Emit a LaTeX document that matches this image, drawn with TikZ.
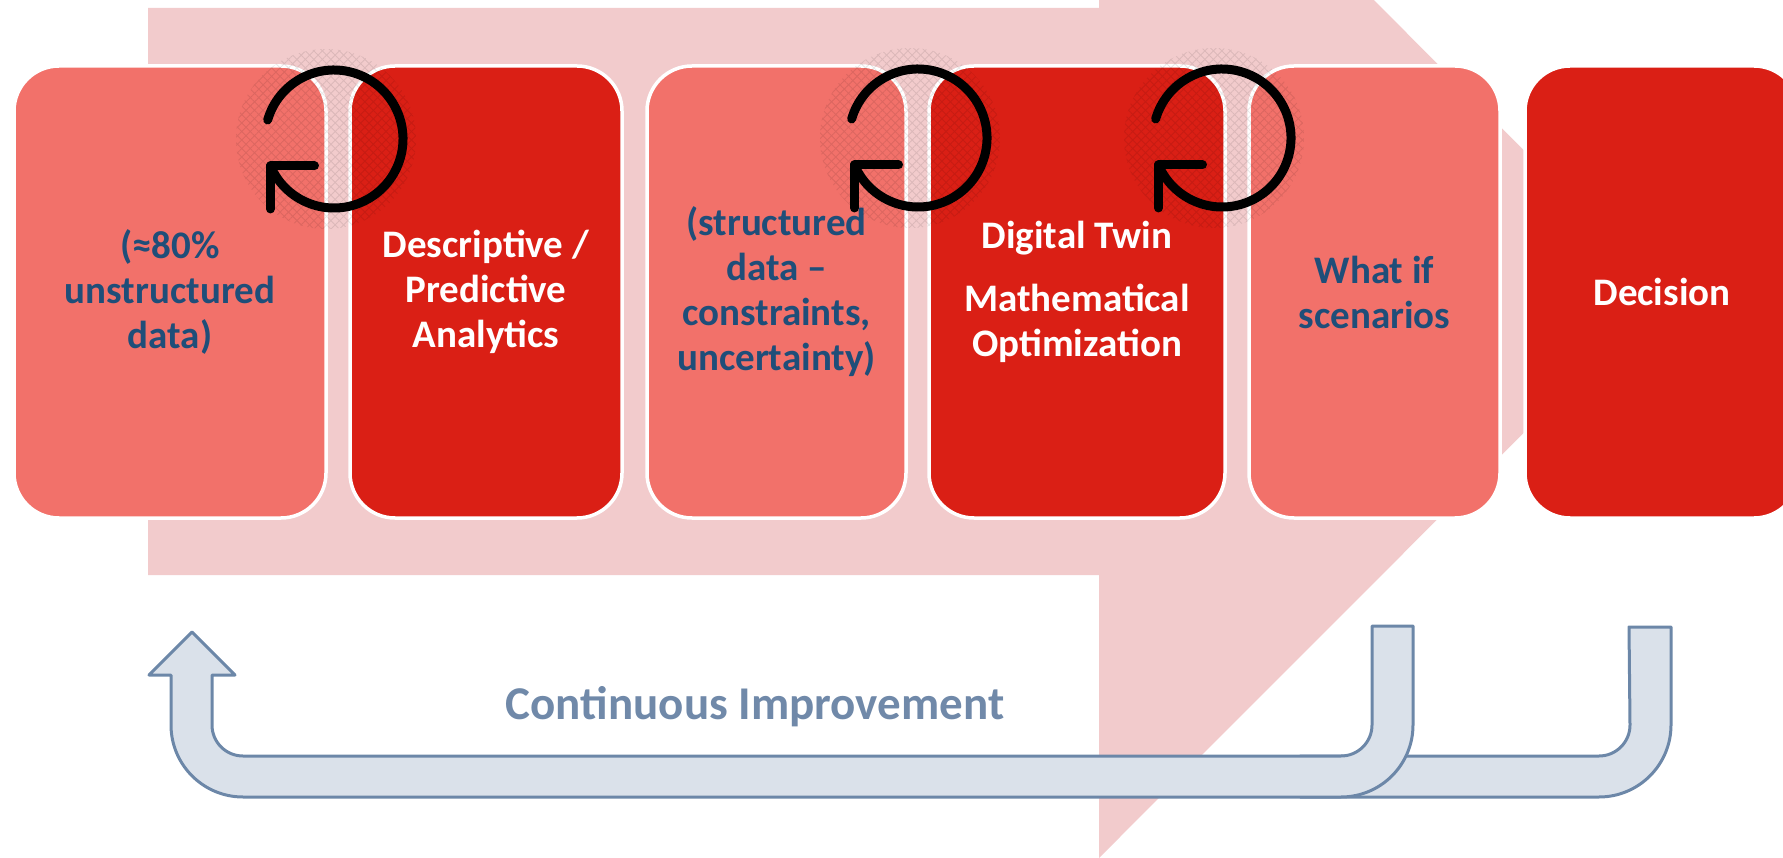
\documentclass[tikz,border=0pt]{standalone}
\usepackage{fontspec}
\setmainfont{Carlito}
\usetikzlibrary{patterns.meta}

\definecolor{chevronpink}{HTML}{F2CBCC}
\definecolor{boxlight}{HTML}{F2716A}
\definecolor{boxdark}{HTML}{DA1F15}
\definecolor{textblue}{HTML}{1F4E79}
\definecolor{loopfill}{HTML}{DAE1EA}
\definecolor{loopline}{HTML}{6C87A8}
\definecolor{looptext}{HTML}{7089A9}

\tikzset{
  stagebox/.style={rectangle, rounded corners=45pt, draw=white, line width=3.5pt,
    minimum height=452pt, inner sep=0pt, align=center,
    font=\bfseries\fontsize{39}{45}\selectfont},
  lightbox/.style={stagebox, fill=boxlight, text=textblue},
  darkbox/.style={stagebox, fill=boxdark, text=white},
  cyclestroke/.style={line width=9pt, line cap=round, line join=round, draw=black},
  loopshape/.style={fill=loopfill, draw=loopline, line width=3pt, line join=round},
  cycleicon/.pic={
    % faint cross-hatched halo behind the icon
    \begin{scope}[transparency group, opacity=0.09]
      \fill[pattern={Lines[angle=45,distance=6pt,line width=0.9pt]}, pattern color=black]
        (-8,0) circle (90);
      \fill[pattern={Lines[angle=-45,distance=6pt,line width=0.9pt]}, pattern color=black]
        (-8,0) circle (90);
    \end{scope}
    % open circle running clockwise, with a corner-shaped arrow tip
    \draw[cyclestroke] (-164:69) arc[start angle=-164, end angle=157, radius=69];
    \draw[cyclestroke] (157:69) ++(44,0) -- (157:69) -- ++(0,43);
  }
}

\begin{document}
\begin{tikzpicture}[x=1pt, y=-1pt]
\useasboundingbox (0,0) rectangle (1783,858);
\begin{scope}
\clip (0,0) rectangle (1783,858);

% large background chevron
\fill[chevronpink] (148,8) -- (1099,8) -- (1099,-275) -- (1665,291.5)
  -- (1099,858) -- (1099,575) -- (148,575) -- cycle;

% process stages
\node[lightbox, minimum width=312pt] (raw)      at (170,292)   {(≈80\%\\unstructured\\data)};
\node[darkbox,  minimum width=272pt] (analytics) at (486,292)  {Descriptive /\\Predictive\\Analytics};
\node[lightbox, minimum width=259pt] (structured) at (776.5,292) {(structured\\data –\\constraints,\\uncertainty)};
\node[darkbox,  minimum width=296pt] (twin)     at (1077,292)  {Digital Twin\\[18pt]Mathematical\\Optimization};
\node[lightbox, minimum width=251pt] (whatif)   at (1374.5,292) {What if\\scenarios};
\node[darkbox,  minimum width=274pt] (decision) at (1662,292)  {Decision};

% feedback cycles between stages
\coordinate (cycA) at (334,139);
\coordinate (cycB) at (918,138);
\coordinate (cycC) at (1222,138);
\pic at (cycA) {cycleicon};
\pic at (cycB) {cycleicon};
\pic at (cycC) {cycleicon};

% return path from the decision stage (lies beneath the main loop)
\path[loopshape] (1629,627) -- (1671,627) -- (1671,725)
  arc[start angle=0, end angle=90, radius=72] -- (1300,797) -- (1300,756)
  -- (1599,756) arc[start angle=90, end angle=0, radius=31] -- cycle;

% main continuous-improvement loop with its upward arrow head
\path[loopshape] (1372,626) -- (1413,626) -- (1413,725)
  arc[start angle=0, end angle=90, radius=72] -- (243,797)
  arc[start angle=90, end angle=180, radius=72] -- (171,675) -- (149,675)
  -- (192,632) -- (235,675) -- (212,675) -- (212,725)
  arc[start angle=180, end angle=90, radius=31] -- (1341,756)
  arc[start angle=90, end angle=0, radius=31] -- cycle;

\node[font=\bfseries\fontsize{47}{56}\selectfont, text=looptext] (improve) at (755,707)
  {Continuous Improvement};
\end{scope}
\end{tikzpicture}
\end{document}
